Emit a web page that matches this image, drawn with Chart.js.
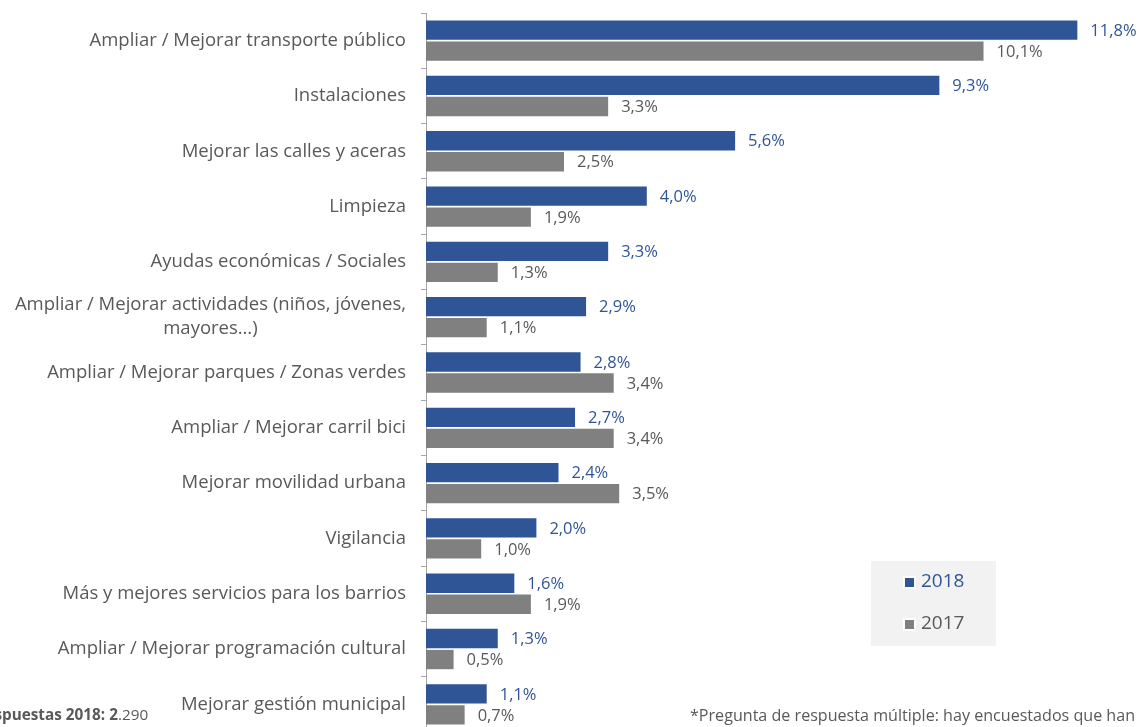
<!DOCTYPE html>
<html>
<head>
<meta charset="utf-8">
<script src="https://cdn.jsdelivr.net/npm/chart.js@4"></script>
<style>
  html, body { margin: 0; padding: 0; background: #fff; overflow: hidden; }
  #wrap { width: 1139px; height: 745px; }
</style>
</head>
<body>
<div id="wrap"><canvas id="myChart" width="1139" height="745"></canvas></div>
<script>
// categorías y valores (%)
const categorias = [
  "Ampliar / Mejorar transporte público",
  "Instalaciones",
  "Mejorar las calles y aceras",
  "Limpieza",
  "Ayudas económicas / Sociales",
  ["Ampliar / Mejorar actividades (niños, jóvenes,", "mayores…)"],
  "Ampliar / Mejorar parques / Zonas verdes",
  "Ampliar / Mejorar carril bici",
  "Mejorar movilidad urbana",
  "Vigilancia",
  "Más y mejores servicios para los barrios",
  "Ampliar / Mejorar programación cultural",
  "Mejorar gestión municipal"
];
const valores2018 = [11.8, 9.3, 5.6, 4.0, 3.3, 2.9, 2.8, 2.7, 2.4, 2.0, 1.6, 1.3, 1.1];
const valores2017 = [10.1, 3.3, 2.5, 1.9, 1.3, 1.1, 3.4, 3.4, 3.5, 1.0, 1.9, 0.5, 0.7];
const series = ["2018", "2017"];

const AZUL = '#2F5597';
const GRIS = '#808080';
const TEXTO = '#595959';
const FUENTE = '"Open Sans", sans-serif';

// etiquetas de categoría (centradas si tienen dos líneas)
const etiquetasY = {
  id: 'etiquetasY',
  afterDraw(chart) {
    const ctx = chart.ctx;
    const y = chart.scales.y;
    const xDer = 406;
    ctx.save();
    ctx.font = '18.5px ' + FUENTE;
    ctx.fillStyle = TEXTO;
    ctx.textBaseline = 'middle';
    chart.data.labels.forEach((lab, i) => {
      const py = y.getPixelForValue(i);
      if (Array.isArray(lab)) {
        const w = Math.max(...lab.map(l => ctx.measureText(l).width));
        ctx.textAlign = 'center';
        const lh = 24;
        lab.forEach((l, k) => {
          ctx.fillText(l, xDer - w / 2, py + (k - (lab.length - 1) / 2) * lh);
        });
      } else {
        ctx.textAlign = 'right';
        ctx.fillText(lab, xDer, py);
      }
    });
    ctx.restore();
  }
};

// valores al final de cada barra
const etiquetasValor = {
  id: 'etiquetasValor',
  afterDatasetsDraw(chart) {
    const ctx = chart.ctx;
    ctx.save();
    ctx.font = '16.5px ' + FUENTE;
    ctx.textBaseline = 'middle';
    ctx.textAlign = 'left';
    chart.data.datasets.forEach((ds, di) => {
      const meta = chart.getDatasetMeta(di);
      ctx.fillStyle = di === 0 ? AZUL : TEXTO;
      meta.data.forEach((bar, i) => {
        const txt = ds.data[i].toFixed(1).replace('.', ',') + '%';
        ctx.fillText(txt, bar.x + 13, bar.y + 1);
      });
    });
    ctx.restore();
  }
};

// leyenda en caja gris y notas al pie
const extras = {
  id: 'extras',
  afterDraw(chart) {
    const ctx = chart.ctx;
    ctx.save();
    // caja de leyenda
    ctx.fillStyle = '#F2F2F2';
    ctx.fillRect(871, 561, 125, 85);
    chart.data.datasets.forEach((ds, i) => {
      const cy = 582 + i * 42;
      ctx.fillStyle = '#fff';
      ctx.fillRect(903, cy - 6, 13, 13);
      ctx.fillStyle = ds.backgroundColor;
      ctx.fillRect(905, cy - 4, 9, 9);
      ctx.font = '19px ' + FUENTE;
      ctx.fillStyle = i === 0 ? AZUL : TEXTO;
      ctx.textAlign = 'left';
      ctx.textBaseline = 'middle';
      ctx.fillText(ds.label, 921, cy);
    });
    // nota izquierda (cortada por el borde)
    ctx.textBaseline = 'middle';
    ctx.textAlign = 'left';
    ctx.fillStyle = TEXTO;
    ctx.font = 'bold 15.3px ' + FUENTE;
    const negrita = 'Respuestas 2018: 2';
    const wNeg = ctx.measureText(negrita).width;
    const wRes = ctx.measureText('Res').width;
    const x0 = -wRes + 2;
    ctx.fillText(negrita, x0, 716);
    ctx.font = '15.3px ' + FUENTE;
    ctx.fillText('.290', x0 + wNeg, 716);
    // nota derecha
    ctx.font = '16.1px ' + FUENTE;
    ctx.fillText('*Pregunta de respuesta múltiple: hay encuestados que han', 690, 716);
    ctx.restore();
  }
};

const ctx = document.getElementById('myChart').getContext('2d');
new Chart(ctx, {
  type: 'bar',
  data: {
    labels: categorias,
    datasets: [
      { label: series[0], data: valores2018, backgroundColor: AZUL },
      { label: series[1], data: valores2017, backgroundColor: GRIS }
    ]
  },
  options: {
    indexAxis: 'y',
    responsive: false,
    animation: false,
    layout: { padding: { left: 0, right: 23, top: 13, bottom: 13 } },
    categoryPercentage: 0.76,
    barPercentage: 0.92,
    plugins: {
      legend: { display: false },
      tooltip: { enabled: false }
    },
    scales: {
      x: {
        display: false,
        min: 0,
        max: 12.5
      },
      y: {
        ticks: { display: false },
        grid: {
          offset: true,
          drawOnChartArea: false,
          drawTicks: true,
          tickLength: 5,
          color: '#A6A6A6'
        },
        border: { display: true, color: '#A6A6A6' },
        afterFit(scale) { scale.width = 426; }
      }
    }
  },
  plugins: [etiquetasY, etiquetasValor, extras]
});
</script>
</body>
</html>
